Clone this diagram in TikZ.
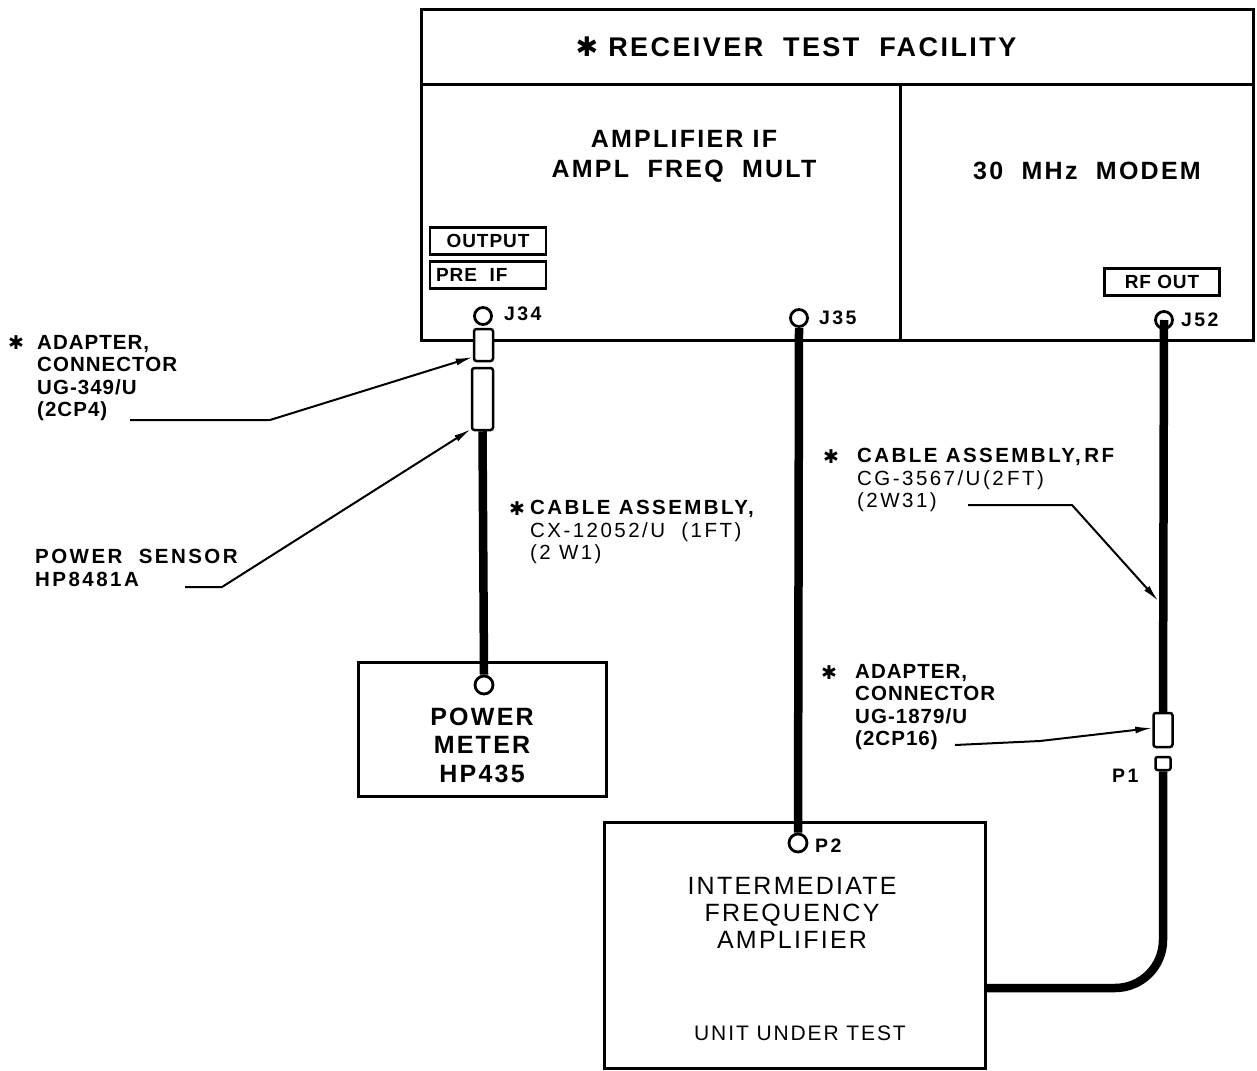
\documentclass[tikz,border=0pt]{standalone}
\usepackage{fontspec}
\setmainfont{Liberation Sans}
\newfontfamily\tfont[LetterSpace=9]{Liberation Sans}
\newfontfamily\lfont[LetterSpace=5]{Liberation Sans}
\newfontfamily\wfont[LetterSpace=12]{Liberation Sans}
\newfontfamily\symf{DejaVu Sans}
\usetikzlibrary{arrows.meta,calc,backgrounds}
\begin{document}
\begin{tikzpicture}[x=1pt,y=-1pt,
 box/.style={draw, line width=3pt, inner sep=0},
 tag/.style={draw, line width=2.4pt, minimum height=27, inner sep=0, font=\lfont\bfseries\fontsize{19}{20}\selectfont},
 jack/.style={draw, circle, line width=2.8pt, minimum size=17, inner sep=0, fill=white},
 plug/.style={draw, line width=2.5pt, rounded corners=2.5, inner sep=0, fill=white},
 cable/.style={line width=8.5pt},
 leader/.style={line width=2pt, -{Latex[length=17pt,width=7pt]}},
 lbl/.style={align=left, inner sep=0, anchor=north west, font=\lfont\bfseries\fontsize{20.5}{22.5}\selectfont},
 wlbl/.style={align=left, inner sep=0, anchor=north west, font=\wfont\fontsize{20.5}{22.5}\selectfont},
 star/.style={inner sep=0, font=\symf\fontsize{19}{19}\selectfont},
 jl/.style={inner sep=0, anchor=west, font=\wfont\bfseries\fontsize{19.5}{20}\selectfont},
 big/.style={align=center, inner sep=0, font=\tfont\bfseries\fontsize{25}{30}\selectfont}
]
\useasboundingbox (0,0) rectangle (1257,1070);

% Receiver test facility
\node[box, minimum width=832, minimum height=330] (rtf) at (837,175) {};
\coordinate (tl) at (421,85);
\coordinate (tr) at (1253,85);
\coordinate (dt) at (900,85);
\coordinate (db) at (900,340);
\draw[line width=3pt] (tl) -- (tr);
\draw[line width=3pt] (dt) -- (db);
\node[big, font=\tfont\bfseries\fontsize{27}{30}\selectfont] (title) at (796,47) {{\symf ✱}\ RECEIVER\ \ TEST\ \ FACILITY};
\node[big] (amp) at (684,156) {AMPLIFIER\ IF\\AMPL\ \ FREQ\ \ MULT};
\node[big] (modem) at (1087,171) {30\ \ MHz\ \ MODEM};
\node[tag, minimum width=116] (outp) at (488,241) {OUTPUT};
\node[tag, minimum width=116, text width=104, align=left] (preif) at (488,275) {PRE\ \ IF};
\node[tag, minimum width=115] (rfout) at (1162,282) {RF OUT};

% jacks
\node[jack] (j34) at (483,316) {};
\node[jl] (j34l) at (504,314) {J34};
\node[jack] (j35) at (799,318) {};
\node[jl] (j35l) at (819,318) {J35};
\node[jack, fill=none] (j52) at (1164,320) {};
\node[jl] (j52l) at (1181,320) {J52};

% left assembly
\node[plug, minimum width=19, minimum height=32] (ad1) at (483.5,345) {};
\node[plug, minimum width=21, minimum height=62] (sen) at (482.5,399) {};

% power meter
\node[box, minimum width=248, minimum height=134] (pm) at (482,729) {};
\node[big, font=\tfont\bfseries\fontsize{25}{28.5}\selectfont] (pmt) at (482,745) {POWER\\METER\\HP435};
\node[jack, minimum size=18] (pmc) at (484,685) {};
\draw[cable] (sen.south) -- (pmc.north);

% IF amplifier
\node[box, minimum width=381, minimum height=246] (ifa) at (794.5,945) {};
\node[big, font=\tfont\fontsize{25}{27}\selectfont] (ift) at (792,913) {INTERMEDIATE\\FREQUENCY\\AMPLIFIER};
\node[big, font=\tfont\fontsize{21}{22}\selectfont] (uut) at (800,1033) {UNIT UNDER TEST};
\node[jack, minimum size=18] (p2) at (798,843) {};
\node[jl] (p2l) at (815,846) {P2};
\draw[cable] (j35.south) -- (p2.north);

% right assembly
\node[plug, minimum width=19, minimum height=34] (ad2) at (1163,730) {};
\node[plug, minimum width=15, minimum height=13, rounded corners=2] (p1c) at (1163,763.5) {};
\node[jl] (p1l) at (1112,776) {P1};
\begin{scope}[on background layer]
\draw[cable] (j52.center) -- (ad2.north);
\end{scope}
\coordinate (ifin) at (987,988);
\draw[cable, rounded corners=48] (p1c.south) |- (ifin);

% labels left
\node[star] (s1) at (16,343) {✱};
\node[lbl] (lab1) at (37,335) {ADAPTER,\\CONNECTOR\\UG-349/U\\(2CP4)};
\coordinate (l1s) at (130,420);
\coordinate (l1m) at (270,420);
\draw[leader] (l1s) -- (l1m) -- ($(ad1.west)+(0,12)$);

\node[lbl, font=\wfont\bfseries\fontsize{20.5}{22.5}\selectfont] (lab2) at (35,549) {POWER\ \ SENSOR\\HP8481A};
\coordinate (l2s) at (185,587);
\coordinate (l2m) at (222,587);
\draw[leader] (l2s) -- (l2m) -- ($(sen.south west)+(0,-2)$);

% cable 1 label
\node[star] (s2) at (517,509) {✱};
\node[wlbl] (lab3) at (530,500) {\textbf{CABLE\ ASSEMBLY,}\\CX-12052/U\ \ (1FT)\\(2\ W1)};

% right labels
\node[star] (s3) at (831,457) {✱};
\node[wlbl] (lab4) at (857,448) {\textbf{CABLE\ ASSEMBLY,\,RF}\\CG-3567/U(2\,FT)\\(2W31)};
\coordinate (l4s) at (968,505);
\coordinate (l4m) at (1072,505);
\draw[leader] (l4s) -- (l4m) -- ($(j52.south)!0.71!(ad2.north)+(-5,0)$);

\node[star] (s4) at (829,673) {✱};
\node[lbl] (lab5) at (855,664) {ADAPTER,\\CONNECTOR\\UG-1879/U\\(2CP16)};
\coordinate (l5s) at (955,745);
\coordinate (l5m) at (1040,741);
\draw[leader] (l5s) -- (l5m) -- ($(ad2.west)+(0,-2)$);
\end{tikzpicture}
\end{document}
